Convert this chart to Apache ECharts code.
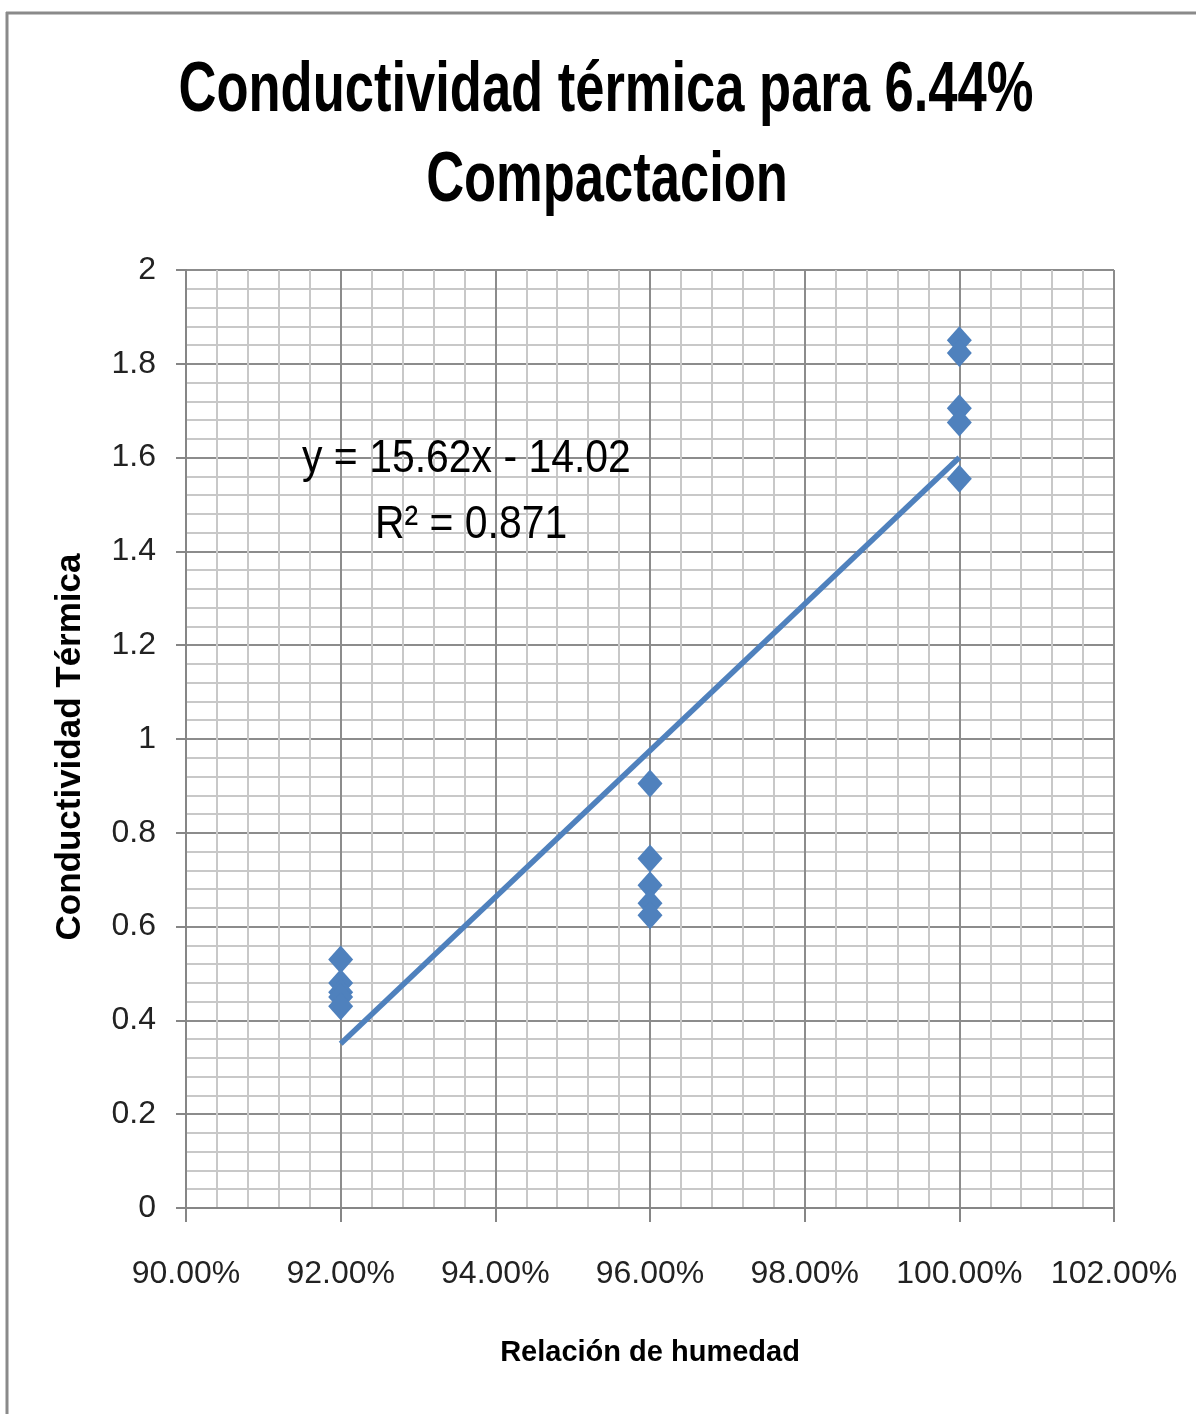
<!DOCTYPE html>
<html><head><meta charset="utf-8">
<script src="https://cdn.jsdelivr.net/npm/echarts@6/dist/echarts.min.js"></script>
<style>html,body{margin:0;padding:0;background:#fff}#c{width:1196px;height:1414px}</style>
</head><body><div id="c"></div>
<script>
const titleLine1 = 'Conductividad térmica para 6.44%';
const titleLine2 = 'Compactacion';
const xName = 'Relación de humedad';
const yName = 'Conductividad Térmica';
const eqLine1 = 'y = 15.62x - 14.02';
const eqLine2 = 'R² = 0.871';
const x92 = [0.92, 0.92, 0.92, 0.92, 0.92];
const y92 = [0.53, 0.48, 0.46, 0.45, 0.43];
const x96 = [0.96, 0.96, 0.96, 0.96, 0.96];
const y96 = [0.905, 0.745, 0.688, 0.65, 0.624];
const x100 = [1.00, 1.00, 1.00, 1.00, 1.00];
const y100 = [1.85, 1.823, 1.705, 1.675, 1.555];
const trendX = [0.92, 1.00];
const trendY = [0.3504, 1.60];

const pts = [];
[[x92,y92],[x96,y96],[x100,y100]].forEach(([xs,ys])=>xs.forEach((x,i)=>pts.push([x,ys[i]])));
const trend = trendX.map((x,i)=>[x,trendY[i]]);

const blue = '#4F81BD';
const font = '"Liberation Sans", Arial, sans-serif';
const chart = echarts.init(document.getElementById('c'), null, {renderer:'canvas'});
chart.setOption({
  animation:false,
  backgroundColor:'#fff',
  grid:{left:186,top:270,right:82,bottom:206},
  xAxis:{type:'value',min:0.90,max:1.02,interval:0.02,
    name:xName,nameLocation:'middle',nameGap:130,
    nameTextStyle:{fontFamily:font,fontWeight:'bold',fontSize:29,color:'#000',verticalAlign:'top'},
    axisLine:{show:true,lineStyle:{color:'#868686',width:2}},
    axisTick:{show:true,length:14,inside:false,lineStyle:{color:'#868686',width:2}},
    axisLabel:{margin:50,fontFamily:font,fontSize:32,color:'#222',
      formatter:v=>(v*100).toFixed(2)+'%'},
    splitLine:{show:true,lineStyle:{color:'#8c8c8c',width:2}},
    minorTick:{show:false,splitNumber:5},
    minorSplitLine:{show:true,lineStyle:{color:'#c8c8c8',width:2}}
  },
  yAxis:{type:'value',min:0,max:2,interval:0.2,
    axisLine:{show:true,lineStyle:{color:'#868686',width:2}},
    axisTick:{show:true,length:10,lineStyle:{color:'#868686',width:2}},
    axisLabel:{margin:30,fontFamily:font,fontSize:32,color:'#222',
      formatter:v=>String(+v.toFixed(2))},
    splitLine:{show:true,lineStyle:{color:'#8c8c8c',width:2}},
    minorTick:{show:false,splitNumber:5},
    minorSplitLine:{show:true,lineStyle:{color:'#c8c8c8',width:2}}
  },
  graphic:[
    {type:'line',shape:{x1:7,y1:12,x2:7,y2:1414},style:{stroke:'#8a8a8a',lineWidth:3},z:100},
    {type:'line',shape:{x1:6,y1:13,x2:1196,y2:13},style:{stroke:'#8a8a8a',lineWidth:3},z:100},
    {type:'text',x:606,y:92,scaleX:0.75,style:{text:titleLine1,font:'bold 70px '+font,fill:'#000',textAlign:'center',textVerticalAlign:'middle',verticalAlign:'middle'},z:100},
    {type:'text',x:607,y:182,scaleX:0.75,style:{text:titleLine2,font:'bold 70px '+font,fill:'#000',textAlign:'center',textVerticalAlign:'middle',verticalAlign:'middle'},z:100},
    {type:'text',x:70,y:747,rotation:Math.PI/2,style:{text:yName,font:'bold 35px '+font,fill:'#000',textAlign:'center',textVerticalAlign:'middle',verticalAlign:'middle'},z:100},
    {type:'text',x:302,y:459,scaleX:0.89,style:{text:eqLine1,font:'46px '+font,fill:'#000',textAlign:'left',textVerticalAlign:'middle',verticalAlign:'middle'},z:100},
    {type:'text',x:375,y:525,scaleX:0.89,style:{text:eqLine2,font:'46px '+font,fill:'#000',textAlign:'left',textVerticalAlign:'middle',verticalAlign:'middle'},z:100}
  ],
  series:[
    {type:'scatter',data:pts,symbol:'diamond',symbolSize:[25,28],
      itemStyle:{color:blue,opacity:1},z:3},
    {type:'line',data:trend,symbol:'none',lineStyle:{color:blue,width:5.5},z:4}
  ]
});
</script></body></html>
